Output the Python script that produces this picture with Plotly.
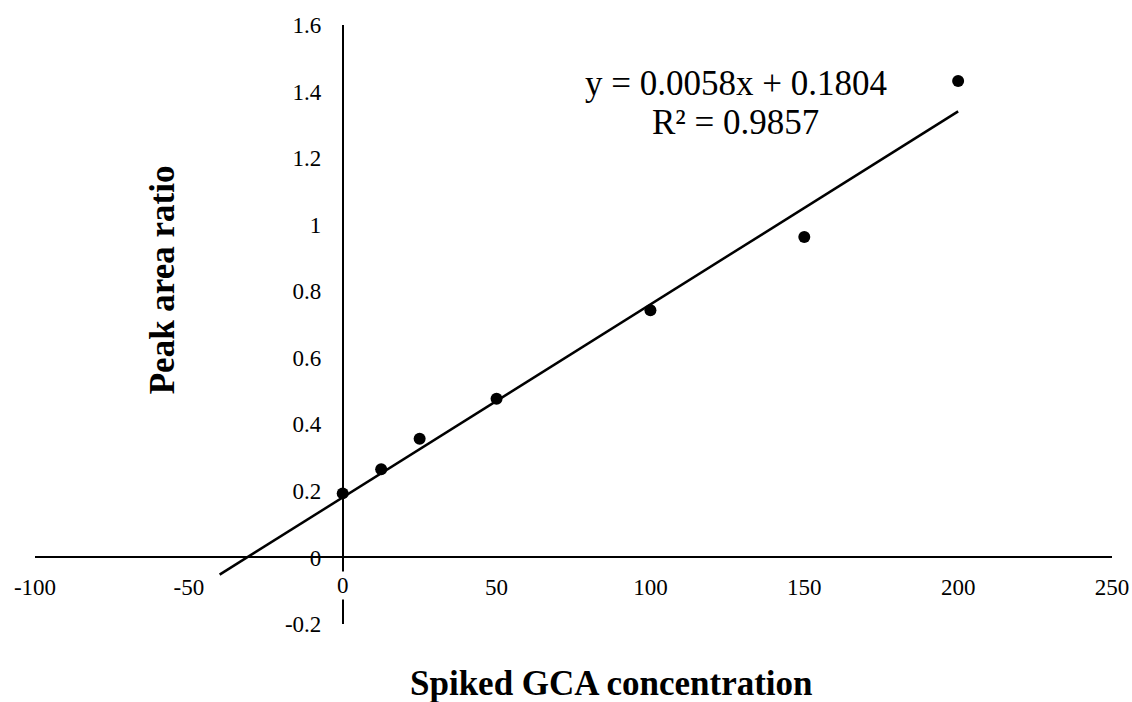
import plotly.graph_objects as go

# Data
conc = [0, 12.5, 25, 50, 100, 150, 200]
ratio = [0.1925, 0.265, 0.357, 0.477, 0.743, 0.963, 1.432]

# Trendline (from the displayed equation)
slope = 0.0058
intercept = 0.1804
trend_x = [-40, 200]
trend_y = [slope * x + intercept for x in trend_x]

x_ticks = [-100, -50, 0, 50, 100, 150, 200, 250]
x_ticktext = ["-100", "-50", "", "50", "100", "150", "200", "250"]
y_ticks = [-0.2, 0, 0.2, 0.4, 0.6, 0.8, 1, 1.2, 1.4, 1.6]
y_ticktext = ["-0.2", "0", "0.2", "0.4", "0.6", "0.8", "1", "1.2", "1.4", "1.6"]

eq_text = "y = 0.0058x + 0.1804"
r2_text = "R² = 0.9857"
x_title = "Spiked GCA concentration"
y_title = "Peak area ratio"

FONT = "Liberation Serif, Times New Roman, serif"
x_range = [-100, 250]
y_range = [-0.2, 1.6]

fig = go.Figure()
fig.add_trace(go.Scatter(x=trend_x, y=trend_y, mode="lines",
                         line=dict(color="black", width=2.5),
                         showlegend=False, hoverinfo="skip"))
fig.add_trace(go.Scatter(x=conc, y=ratio, mode="markers",
                         marker=dict(color="black", size=12),
                         showlegend=False))

fig.update_layout(
    width=1132, height=702,
    margin=dict(l=35, r=20, t=25, b=78, autoexpand=False),
    paper_bgcolor="white", plot_bgcolor="white",
    font=dict(family=FONT, color="black", size=22),
    xaxis=dict(range=x_range, tickvals=x_ticks, ticktext=x_ticktext,
               showgrid=False, zeroline=False, showline=True,
               linecolor="black", linewidth=1.5, ticks="",
               anchor="free", automargin=False,
               position=(0 - y_range[0]) / (y_range[1] - y_range[0]),
               ticklabelstandoff=9,
               tickfont=dict(family=FONT, size=23, color="black")),
    yaxis=dict(range=y_range, tickvals=y_ticks, ticktext=y_ticktext,
               showgrid=False, zeroline=False, showline=True,
               linecolor="black", linewidth=1.5, ticks="",
               anchor="free", automargin=False,
               position=(0 - x_range[0]) / (x_range[1] - x_range[0]),
               ticklabelstandoff=16,
               tickfont=dict(family=FONT, size=23, color="black")),
)

# x tick label "0" with white background (breaks the y-axis line like the original)
fig.add_annotation(x=0, y=0, xref="x", yref="y", text="0", showarrow=False,
                   yanchor="top", yshift=-14, bgcolor="white",
                   font=dict(family=FONT, size=23, color="black"))

fig.add_annotation(x=127.8, y=1.4256, xref="x", yref="y", text=eq_text,
                   showarrow=False, font=dict(family=FONT, size=35, color="black"))
fig.add_annotation(x=127.8, y=1.308, xref="x", yref="y", text=r2_text,
                   showarrow=False, font=dict(family=FONT, size=35, color="black"))

fig.add_annotation(x=0.5357, y=-0.0994, xref="paper", yref="paper",
                   text="<b>" + x_title + "</b>", showarrow=False,
                   yanchor="middle", xanchor="center",
                   font=dict(family=FONT, size=35, color="black"))
fig.add_annotation(x=0.118, y=0.574, xref="paper", yref="paper",
                   text="<b>" + y_title + "</b>", showarrow=False, textangle=-90,
                   yanchor="middle", xanchor="center",
                   font=dict(family=FONT, size=35, color="black"))

fig.write_html("out.html")
